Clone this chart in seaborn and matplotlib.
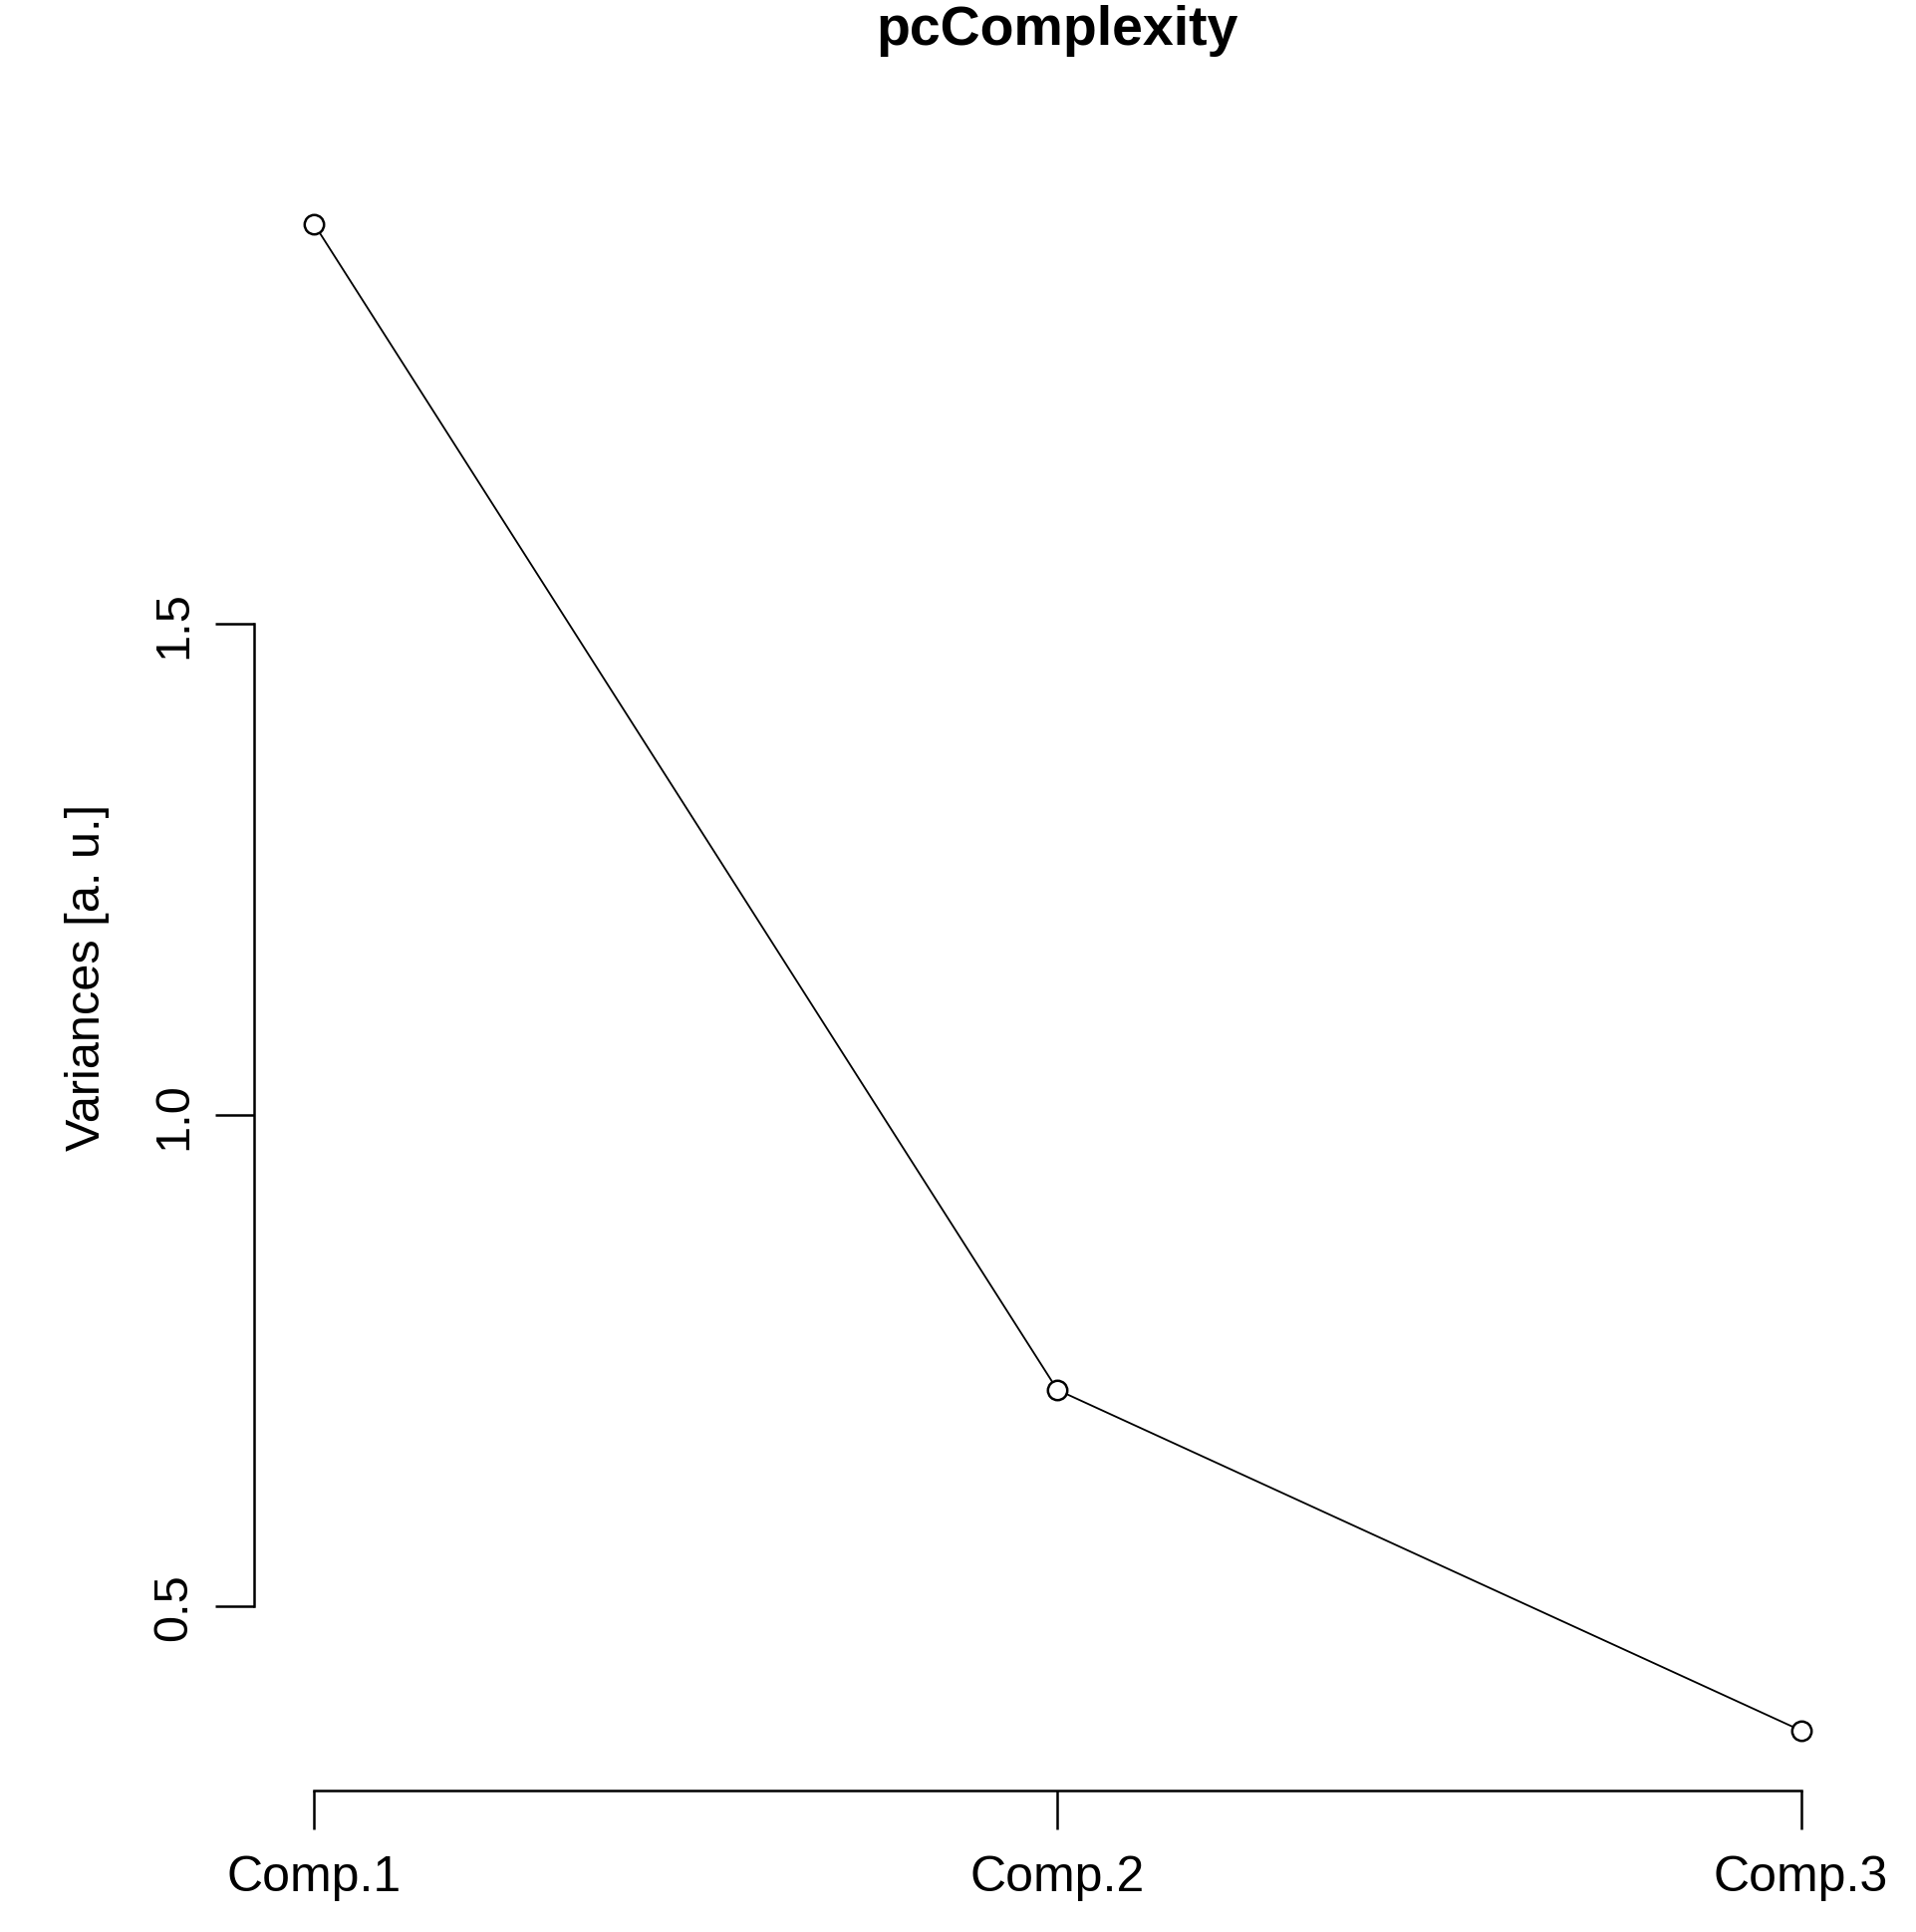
import matplotlib
matplotlib.use("Agg")
import matplotlib.pyplot as plt
import seaborn as sns
import pandas as pd

components = ["Comp.1", "Comp.2", "Comp.3"]
variances = [1.908, 0.72, 0.373]
yticks = [0.5, 1.0, 1.5]

sns.set_style("white")
plt.rcParams['font.family'] = ['Liberation Sans', 'DejaVu Sans']
plt.rcParams['text.color'] = 'black'
plt.rcParams['axes.labelcolor'] = 'black'

df = pd.DataFrame({"x": [1, 2, 3], "v": variances})
fig = plt.figure(figsize=(19.24, 19.40), dpi=100)
ax = fig.add_axes([0.1327, 0.073, 0.8378, 0.843])
sns.lineplot(data=df, x="x", y="v", ax=ax, color="black", linewidth=1.3)
ax.plot(df["x"], df["v"], "o", mfc="white", mec="black", ms=14, mew=1.8)
ax.set_xlim(0.92, 3.08)
ax.set_ylim(0.3115, 1.9715)
ax.set_xticks([1, 2, 3])
ax.set_xticklabels(components, fontsize=36)
ax.set_yticks(yticks)
ax.set_yticklabels(["0.5", "1.0", "1.5"], fontsize=35, rotation=90, va="center")
ax.tick_params(axis="both", bottom=True, left=True, length=28, width=1.8,
               direction="out", colors="black", labelcolor="black", pad=14)
ax.tick_params(axis="x", pad=18)
for s in ["top", "right"]:
    ax.spines[s].set_visible(False)
ax.spines["left"].set_bounds(0.5, 1.5)
ax.spines["bottom"].set_bounds(1, 3)
for s in ["left", "bottom"]:
    ax.spines[s].set_linewidth(1.8)
    ax.spines[s].set_color("black")
ax.set_xlabel("")
ax.set_ylabel("Variances [a. u.]", fontsize=35, labelpad=30, color="black")
ax.set_title("pcComplexity", fontsize=40, fontweight="bold", color="black", pad=85)
fig.savefig("out.png", dpi=100, facecolor="white")
